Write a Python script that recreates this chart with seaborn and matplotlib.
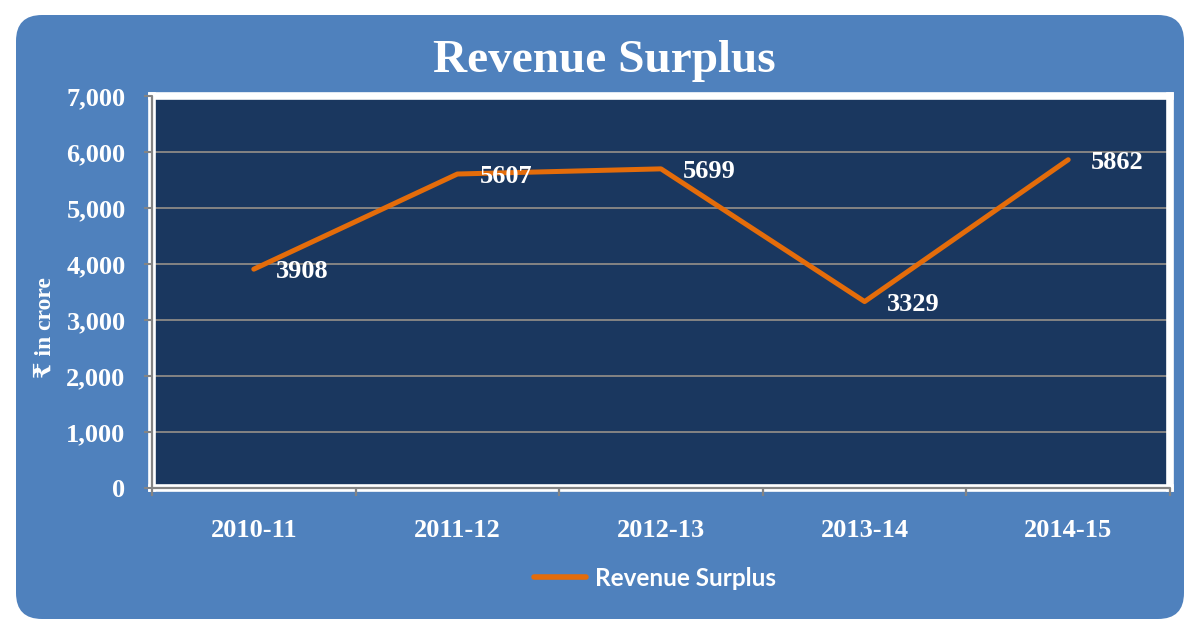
import matplotlib
matplotlib.use("Agg")
import matplotlib.pyplot as plt
from matplotlib.patches import FancyBboxPatch
from matplotlib.ticker import FuncFormatter
import seaborn as sns
import pandas as pd

years = ["2010-11", "2011-12", "2012-13", "2013-14", "2014-15"]
surplus = [3908, 5607, 5699, 3329, 5862]
series_name = "Revenue Surplus"

BLUE = "#4F81BD"
NAVY = "#1A375F"
ORANGE = "#E46C0A"
GREY = "#848484"
SERIF = ["Liberation Serif", "DejaVu Serif", "DejaVu Sans"]

sns.set_theme(style="white")
plt.rcParams["font.family"] = SERIF

df = pd.DataFrame({"year": years, "value": surplus})

W, H = 1188, 621
fig = plt.figure(figsize=(W / 100, H / 100), dpi=100)
fig.patch.set_facecolor("white")

# rounded blue panel behind everything (inches)
bg = FancyBboxPatch((0.16, 0.02), 11.68, 6.04,
                    boxstyle="round,pad=0,rounding_size=0.26",
                    transform=fig.dpi_scale_trans, facecolor=BLUE,
                    edgecolor="none", zorder=-10)
fig.patches.append(bg)

ax = fig.add_axes([152 / W, 1 - 488 / H, (1170 - 152) / W, (488 - 96) / H])
ax.set_facecolor(NAVY)

sns.lineplot(data=df, x="year", y="value", ax=ax, color=ORANGE, linewidth=3.6,
             label=series_name, sort=False, zorder=5)

ax.set_ylim(0, 7000)
ax.set_xlim(-0.5, len(years) - 0.5)
ax.set_yticks(range(0, 7001, 1000))
ax.yaxis.set_major_formatter(FuncFormatter(lambda v, p: f"{int(v):,}"))
ax.set_xticks(range(len(years)))
ax.set_xticklabels(years)
ax.set_xticks([i - 0.5 for i in range(len(years) + 1)], minor=True)

for y in range(1000, 7000, 1000):
    ax.axhline(y, color=GREY, linewidth=1.4, zorder=1)

for s in ax.spines.values():
    s.set_color("white")
    s.set_linewidth(5.5)
ax.axvline(-0.5, color=GREY, linewidth=1.6, zorder=6, clip_on=False)
ax.axhline(0, color=GREY, linewidth=1.6, zorder=6, clip_on=False)

ax.tick_params(axis="y", which="major", length=6, width=1.5, color=GREY,
               pad=13, labelsize=19, labelcolor="white", left=True)
ax.tick_params(axis="x", which="major", length=0, pad=22,
               labelsize=19, labelcolor="white")
ax.tick_params(axis="x", which="minor", length=6, width=1.6, color=GREY,
               bottom=True)
for t in ax.xaxis.get_minor_ticks() + ax.yaxis.get_major_ticks():
    t.tick1line.set_zorder(8)
for lab in ax.get_xticklabels() + ax.get_yticklabels():
    lab.set_fontweight("bold")

ax.set_xlabel("")
ax.set_ylabel("₹ in crore", fontsize=17, fontweight="bold", color="white",
              family=SERIF)
ax.yaxis.set_label_coords(-0.095, 0.41)

for i, v in enumerate(surplus):
    ax.annotate(str(v), (i, v), xytext=(16, -2), textcoords="offset points",
                ha="left", va="center", fontsize=19, fontweight="bold",
                color="white", zorder=7)

fig.text(604 / W, 1 - 61 / H, "Revenue Surplus", ha="center", va="center",
         fontsize=34, fontweight="bold", color="white")

leg = ax.legend(loc="center", bbox_to_anchor=(655 / W, 1 - 578 / H),
                bbox_transform=fig.transFigure, frameon=False,
                handlelength=2.15, handletextpad=0.35,
                prop={"family": "Lato", "weight": "bold", "size": 17.5})
for t in leg.get_texts():
    t.set_color("white")
for h in leg.get_lines():
    h.set_linewidth(4)

ax.set_axisbelow(False)
fig.savefig("out.png", dpi=100, facecolor=fig.get_facecolor())
